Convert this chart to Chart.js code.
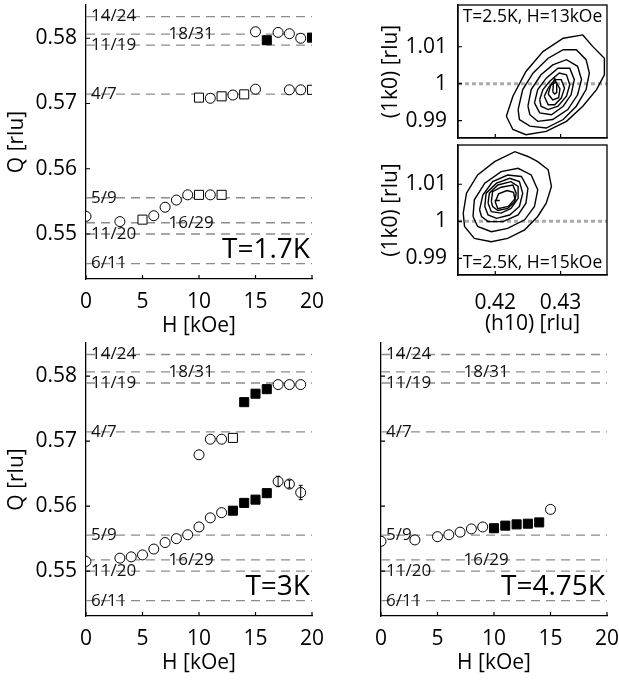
<!DOCTYPE html>
<html>
<head>
<meta charset="utf-8">
<script src="https://cdn.jsdelivr.net/npm/chart.js@4.4.1/dist/chart.umd.min.js"></script>
<style>
  html, body { margin: 0; padding: 0; background: #fff; }
  body { width: 619px; height: 681px; position: relative; overflow: hidden; }
  canvas { position: absolute; }
</style>
</head>
<body>
<canvas id="panel17" width="336" height="362" style="left:0px;top:-19px"></canvas>
<canvas id="panel3" width="336" height="361" style="left:0px;top:319px"></canvas>
<canvas id="panel475" width="270" height="361" style="left:361px;top:319px"></canvas>
<canvas id="map13" width="257" height="181" style="left:374px;top:-19px"></canvas>
<canvas id="map15" width="257" height="220" style="left:374px;top:121px"></canvas>
<script>
// Q(H) panels + two (h10)/(1k0) contour maps

// commensurate fractions (dashed reference lines)
const fracNames = ['14/24', '18/31', '11/19', '4/7', '5/9', '16/29', '11/20', '6/11'];
const fracValues = [14 / 24, 18 / 31, 11 / 19, 4 / 7, 5 / 9, 16 / 29, 11 / 20, 6 / 11];
const fracInset = [false, true, false, false, false, true, false, false];

// field axes
const hRange = [0, 20];
const hTicks = [0, 5, 10, 15, 20];
const hTickLabels = ['0', '5', '10', '15', '20'];
const qRange = [0.5431, 0.5851];
const qTicks = [0.55, 0.56, 0.57, 0.58];
const qTickLabels = ['0.55', '0.56', '0.57', '0.58'];

// T = 1.7 K
const t17CircH = [0, 3, 6, 7, 8, 9, 11, 11, 13, 15, 18, 19, 15, 17, 18, 19];
const t17CircQ = [0.5527, 0.5519, 0.5528, 0.5541, 0.5552, 0.5560, 0.5560, 0.5708, 0.5713, 0.5722, 0.5721, 0.5721, 0.5810, 0.5809, 0.5807, 0.5800];
const t17SqH = [5, 10, 12, 10, 12, 14, 20];
const t17SqQ = [0.5522, 0.5560, 0.5560, 0.5709, 0.5711, 0.5714, 0.5721];
const t17FillH = [16, 20];
const t17FillQ = [0.5797, 0.5801];

// T = 3 K
const t3CircH = [0, 3, 4, 5, 6, 7, 8, 9, 10, 11, 12, 17, 18, 19, 10, 11, 12, 17, 18, 19];
const t3CircQ = [0.5515, 0.5520, 0.5522, 0.5525, 0.5534, 0.5544, 0.5550, 0.5556, 0.5568, 0.5582, 0.5590, 0.5638, 0.5634, 0.5621, 0.5679, 0.5703, 0.5703, 0.5787, 0.5787, 0.5787];
const t3SqH = [13];
const t3SqQ = [0.5705];
const t3FillH = [13, 14, 15, 16, 14, 15, 16];
const t3FillQ = [0.5593, 0.5605, 0.5610, 0.5620, 0.5760, 0.5773, 0.5780];
const t3ErrH = [17, 18, 19];
const t3ErrQ = [0.5638, 0.5634, 0.5621];
const t3ErrD = [0.0008, 0.0006, 0.0011];

// T = 4.75 K
const t475CircH = [0, 3, 5, 6, 7, 8, 9, 15];
const t475CircQ = [0.5546, 0.5548, 0.5553, 0.5556, 0.5560, 0.5565, 0.5568, 0.5595];
const t475FillH = [10, 11, 12, 13, 14];
const t475FillQ = [0.5566, 0.5570, 0.5572, 0.5573, 0.5575];

// contour maps
const hMapRange = [0.4143, 0.4371];
const hMapTicks = [0.42, 0.43];
const hMapTickLabels = ['0.42', '0.43'];
const kMapTicks = [0.99, 1, 1.01];
const kMapTickLabels = ['0.99', '1', '1.01'];
const k13Range = [0.9853, 1.0213];
const k15Range = [0.9855, 1.0206];

// H = 13 kOe, outer -> inner
const cont13H = [
    [0.4217, 0.4227, 0.4247, 0.4273, 0.4304, 0.4334, 0.4349, 0.4367, 0.4367, 0.4355, 0.4334, 0.4309, 0.4278, 0.4247, 0.4227],
    [0.4235, 0.4242, 0.4258, 0.4281, 0.4304, 0.4324, 0.4339, 0.4344, 0.4339, 0.4324, 0.4304, 0.4278, 0.4253, 0.4237],
    [0.4250, 0.4255, 0.4270, 0.4288, 0.4309, 0.4326, 0.4332, 0.4326, 0.4311, 0.4288, 0.4265, 0.4253],
    [0.4260, 0.4265, 0.4278, 0.4296, 0.4314, 0.4321, 0.4316, 0.4304, 0.4286, 0.4268],
    [0.4268, 0.4273, 0.4283, 0.4298, 0.4309, 0.4314, 0.4309, 0.4296, 0.4281, 0.4270],
    [0.4275, 0.4281, 0.4291, 0.4301, 0.4306, 0.4301, 0.4291, 0.4281],
    [0.4281, 0.4285, 0.4293, 0.4299, 0.4297, 0.4288],
    [0.4288, 0.4289, 0.4291, 0.4294, 0.4294, 0.4291]
];
const cont13K = [
    [0.9912, 0.9966, 1.0033, 1.0087, 1.0123, 1.0132, 1.0101, 1.0069, 1.0024, 0.9984, 0.9939, 0.9898, 0.9871, 0.9862, 0.9876],
    [0.9930, 0.9984, 1.0029, 1.0069, 1.0092, 1.0092, 1.0065, 1.0029, 0.9984, 0.9939, 0.9903, 0.9880, 0.9885, 0.9903],
    [0.9939, 0.9984, 1.0024, 1.0051, 1.0065, 1.0047, 1.0011, 0.9970, 0.9930, 0.9903, 0.9898, 0.9916],
    [0.9948, 0.9984, 1.0015, 1.0042, 1.0042, 1.0011, 0.9970, 0.9939, 0.9916, 0.9921],
    [0.9957, 0.9984, 1.0006, 1.0029, 1.0024, 0.9997, 0.9966, 0.9939, 0.9930, 0.9939],
    [0.9966, 0.9988, 1.0011, 1.0011, 0.9988, 0.9961, 0.9943, 0.9943],
    [0.9972, 0.9996, 1.0004, 0.9986, 0.9962, 0.9956],
    [0.9978, 1.0000, 1.0014, 0.9999, 0.9976, 0.9972]
];

// H = 15 kOe, outer -> inner
const cont15H = [
    [0.4151, 0.4156, 0.4173, 0.4199, 0.4230, 0.4250, 0.4265, 0.4281, 0.4286, 0.4278, 0.4265, 0.4245, 0.4219, 0.4194, 0.4168, 0.4153],
    [0.4166, 0.4168, 0.4184, 0.4209, 0.4235, 0.4255, 0.4265, 0.4260, 0.4245, 0.4219, 0.4194, 0.4173],
    [0.4176, 0.4181, 0.4196, 0.4219, 0.4240, 0.4250, 0.4247, 0.4235, 0.4212, 0.4189, 0.4179],
    [0.4184, 0.4186, 0.4202, 0.4222, 0.4237, 0.4242, 0.4237, 0.4222, 0.4202, 0.4189],
    [0.4189, 0.4191, 0.4204, 0.4224, 0.4235, 0.4235, 0.4224, 0.4209, 0.4194],
    [0.4194, 0.4196, 0.4209, 0.4227, 0.4232, 0.4230, 0.4219, 0.4204, 0.4196],
    [0.4200, 0.4205, 0.4218, 0.4228, 0.4230, 0.4220, 0.4204]
];
const cont15K = [
    [1.0022, 1.0076, 1.0125, 1.0161, 1.0188, 1.0175, 1.0161, 1.0139, 1.0094, 1.0049, 1.0013, 0.9977, 0.9954, 0.9945, 0.9954, 0.9986],
    [1.0013, 1.0058, 1.0103, 1.0134, 1.0143, 1.0125, 1.0085, 1.0040, 1.0004, 0.9981, 0.9972, 0.9986],
    [1.0031, 1.0071, 1.0107, 1.0125, 1.0121, 1.0089, 1.0049, 1.0017, 0.9999, 0.9999, 1.0013],
    [1.0040, 1.0076, 1.0103, 1.0116, 1.0107, 1.0076, 1.0040, 1.0017, 1.0008, 1.0017],
    [1.0049, 1.0076, 1.0098, 1.0107, 1.0094, 1.0062, 1.0035, 1.0022, 1.0026],
    [1.0053, 1.0080, 1.0092, 1.0098, 1.0076, 1.0053, 1.0035, 1.0029, 1.0040],
    [1.0052, 1.0074, 1.0083, 1.0078, 1.0060, 1.0040, 1.0034]
];
const peak15H = [0.4199, 0.4207];
const peak15K = [1.0056, 1.0056];

Chart.defaults.font.family = '"Open Sans", "DejaVu Sans", sans-serif';
Chart.defaults.color = '#000';

// fraction labels, inward ticks, frame, panel text, error bars
const decor = {
    id: 'decor',
    afterDatasetDraw(chart, args) {
        const ds = chart.data.datasets[args.index];
        if (!ds.labelHook) return;
        const ctx = chart.ctx, xs = chart.scales.x, ys = chart.scales.y;
        ctx.save();
        ctx.font = '17px "Open Sans"';
        ctx.fillStyle = '#111';
        ctx.textAlign = 'left';
        ctx.textBaseline = 'middle';
        fracNames.forEach((name, i) => {
            const x = fracInset[i] ? xs.getPixelForValue(7.3) : chart.chartArea.left + 5;
            ctx.fillText(name, x, ys.getPixelForValue(fracValues[i]));
        });
        ctx.restore();
    },
    afterDraw(chart, args, opts) {
        const ctx = chart.ctx, a = chart.chartArea;
        const xs = chart.scales.x, ys = chart.scales.y;
        ctx.save();
        ctx.strokeStyle = '#000';
        ctx.lineWidth = 1.2;
        ctx.beginPath();
        xs.ticks.forEach(t => {
            const p = xs.getPixelForValue(t.value);
            ctx.moveTo(p, a.bottom);
            ctx.lineTo(p, a.bottom - 4);
        });
        ys.ticks.forEach(t => {
            const p = ys.getPixelForValue(t.value);
            ctx.moveTo(a.left, p);
            ctx.lineTo(a.left + 4, p);
        });
        ctx.stroke();
        if (opts.box) {
            ctx.lineWidth = 1.3;
            ctx.strokeRect(a.left, a.top, a.width, a.height);
        }
        if (opts.errH) {
            ctx.lineWidth = 1;
            ctx.beginPath();
            opts.errH.forEach((h, i) => {
                const x = xs.getPixelForValue(h);
                const y1 = ys.getPixelForValue(opts.errQ[i] - opts.errD[i]);
                const y2 = ys.getPixelForValue(opts.errQ[i] + opts.errD[i]);
                ctx.moveTo(x, y1); ctx.lineTo(x, y2);
                ctx.moveTo(x - 2, y1); ctx.lineTo(x + 2, y1);
                ctx.moveTo(x - 2, y2); ctx.lineTo(x + 2, y2);
            });
            ctx.stroke();
        }
        if (opts.text) {
            ctx.font = opts.font;
            ctx.fillStyle = '#000';
            ctx.textBaseline = 'middle';
            if (opts.where === 'br') {
                ctx.textAlign = 'right';
                ctx.fillText(opts.text, a.right - 2, a.bottom - 29);
            } else {
                ctx.textAlign = 'center';
                const y = opts.where === 'top' ? a.top + 12 : a.bottom - 12;
                ctx.fillText(opts.text, (a.left + a.right) / 2, y);
            }
        }
        ctx.restore();
    }
};

function axis(range, ticks, labels, title, size, vertical, pad, showLabels) {
    return {
        type: 'linear',
        min: range[0],
        max: range[1],
        afterBuildTicks: s => { s.ticks = ticks.map(v => ({ value: v })); },
        afterFit: s => { if (vertical) s.width = size; else s.height = size; },
        grid: { display: true, drawOnChartArea: false, drawTicks: false },
        border: { display: true, color: '#000', width: 1.3 },
        ticks: {
            display: showLabels,
            padding: pad,
            font: { size: 21 },
            color: '#000',
            callback: (v, i) => labels[i]
        },
        title: {
            display: !!title,
            text: title || '',
            font: { size: 21 },
            color: '#000',
            padding: { top: 4, bottom: 4 }
        }
    };
}

function points(xs, ys, style, fill) {
    return {
        data: xs.map((x, i) => ({ x: x, y: ys[i] })),
        pointStyle: style,
        pointRadius: style === 'rect' ? 6.4 : 5,
        pointBackgroundColor: fill,
        pointBorderColor: '#000',
        pointBorderWidth: 1,
        order: 0
    };
}

function refLines() {
    return fracValues.map((v, i) => ({
        data: [{ x: hRange[0], y: v }, { x: hRange[1], y: v }],
        showLine: true,
        borderColor: '#8c8c8c',
        borderWidth: 1.3,
        borderDash: [9, 6],
        pointRadius: 0,
        order: 1,
        labelHook: i === 0
    }));
}

function fieldPanel(id, sets, text, yLabels, decorExtra) {
    new Chart(document.getElementById(id), {
        type: 'scatter',
        data: { datasets: sets.concat(refLines()) },
        options: {
            responsive: false,
            animation: false,
            devicePixelRatio: 1,
            events: [],
            layout: { padding: { top: 24, right: 24, bottom: 0, left: 0 } },
            plugins: {
                legend: { display: false },
                tooltip: { enabled: false },
                decor: Object.assign({ text: text, where: 'br', font: '28px "Open Sans"' }, decorExtra || {})
            },
            scales: {
                x: axis(hRange, hTicks, hTickLabels, 'H [kOe]', 64, false, 10, true),
                y: yLabels
                    ? axis(qRange, qTicks, qTickLabels, 'Q [rlu]', 86, true, 9, true)
                    : axis(qRange, qTicks, qTickLabels, null, 20, true, 9, false)
            }
        },
        plugins: [decor]
    });
}

fieldPanel('panel17', [
    points(t17CircH, t17CircQ, 'circle', '#fff'),
    points(t17SqH, t17SqQ, 'rect', '#fff'),
    points(t17FillH, t17FillQ, 'rect', '#000')
], 'T=1.7K', true);

fieldPanel('panel3', [
    points(t3CircH, t3CircQ, 'circle', '#fff'),
    points(t3SqH, t3SqQ, 'rect', '#fff'),
    points(t3FillH, t3FillQ, 'rect', '#000')
], 'T=3K', true, { errH: t3ErrH, errQ: t3ErrQ, errD: t3ErrD });

fieldPanel('panel475', [
    points(t475CircH, t475CircQ, 'circle', '#fff'),
    points(t475FillH, t475FillQ, 'rect', '#000')
], 'T=4.75K', false);

function contourSets(hs, ks) {
    return hs.map((row, j) => {
        const pts = row.map((h, i) => ({ x: h, y: ks[j][i] }));
        pts.push(pts[0]);
        return {
            data: pts,
            showLine: true,
            borderColor: '#000',
            borderWidth: 1.4,
            pointRadius: 0,
            order: 0
        };
    });
}

function mapPanel(id, sets, kRange, text, where, showX, xSize, bottomPad) {
    const guide = {
        data: [{ x: hMapRange[0], y: 1 }, { x: hMapRange[1], y: 1 }],
        showLine: true,
        borderColor: '#aaa',
        borderWidth: 3,
        borderDash: [4, 3],
        pointRadius: 0,
        order: 2
    };
    new Chart(document.getElementById(id), {
        type: 'scatter',
        data: { datasets: sets.concat([guide]) },
        options: {
            responsive: false,
            animation: false,
            devicePixelRatio: 1,
            events: [],
            layout: { padding: { top: 24, right: 24, bottom: bottomPad, left: 0 } },
            plugins: {
                legend: { display: false },
                tooltip: { enabled: false },
                decor: { box: true, text: text, where: where, font: '17.5px "Open Sans"' }
            },
            scales: {
                x: axis(hMapRange, hMapTicks, hMapTickLabels, showX ? '(h10) [rlu]' : null, xSize, false, 15, showX),
                y: axis(kRange, kMapTicks, kMapTickLabels, '(1k0) [rlu]', 84, true, 11, true)
            }
        },
        plugins: [decor]
    });
}

mapPanel('map13', contourSets(cont13H, cont13K), k13Range, 'T=2.5K, H=13kOe', 'top', false, 0, 24);

const peakSet = contourSets([peak15H], [peak15K]);
mapPanel('map15', contourSets(cont15H, cont15K).concat(peakSet), k15Range, 'T=2.5K, H=15kOe', 'bottom', true, 66, 0);
</script>
</body>
</html>
